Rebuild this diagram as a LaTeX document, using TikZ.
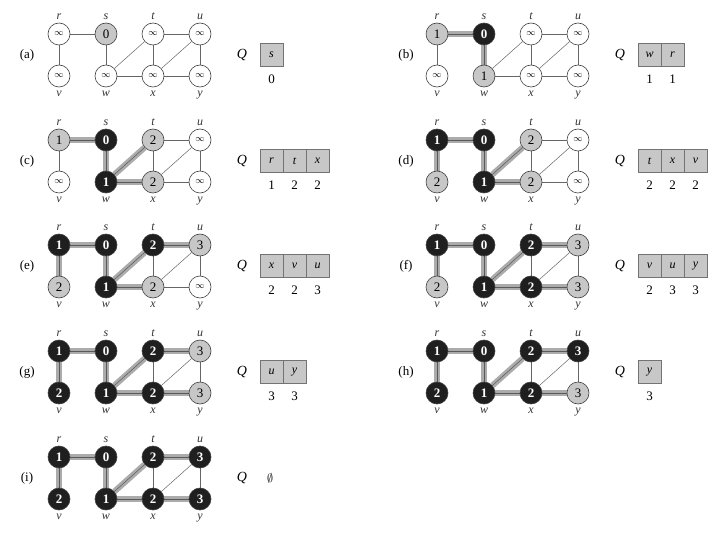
\documentclass[tikz,border=0pt]{standalone}
\usepackage{fontspec}
\setmainfont{Liberation Serif}
\pgfdeclarelayer{bg}
\pgfsetlayers{bg,main}
\newcommand{\inff}{{\fontsize{9}{9}\selectfont$\infty$}}
\tikzset{
 vtx/.style={circle, minimum size=22pt, inner sep=0pt, draw=black!75, line width=0.6pt, font=\fontsize{13}{13}\selectfont},
 wn/.style={vtx, fill=white},
 gn/.style={vtx, fill=black!22},
 bn/.style={vtx, fill=black!88, text=white, font=\fontsize{13}{13}\selectfont\bfseries},
 lbl/.style={font=\fontsize{12}{12}\selectfont\itshape, text=black!80, label distance=0pt},
 edge/.style={draw=black!60, line width=0.5pt},
 treeband/.style={draw=black!33, line width=6pt},
 treecore/.style={draw=black!65, line width=0.5pt},
 cell/.style={draw=black!55, fill=black!22, minimum width=23pt, minimum height=23pt, inner sep=0pt, font=\fontsize{12}{12}\selectfont\itshape},
 num/.style={font=\fontsize{13}{13}\selectfont, inner sep=0pt},
 plabel/.style={font=\fontsize{13}{13}\selectfont},
 qlabel/.style={font=\fontsize{14}{14}\selectfont\itshape},
}
% #1 id, #2 x of r, #3 y of top row, #4 specs n/col/row/style/value/labelpos
\newcommand{\bfsgraph}[4]{%
  \foreach \n/\c/\rw/\st/\v/\p in {#4}{%
    \node[\st, label={[lbl]\p:\n}] (#1\n) at ({#2+47*\c},{#3+42*\rw}) {\v};}
  \begin{pgfonlayer}{bg}
  \foreach \a/\b in {r/s,r/v,s/w,w/t,w/x,t/x,t/u,x/u,x/y,u/y}{\draw[edge] (#1\a) -- (#1\b);}
  \end{pgfonlayer}}
\newcommand{\bfstree}[2]{%
  \begin{pgfonlayer}{bg}
  \foreach \a/\b in {#2}{\draw[treeband] (#1\a) -- (#1\b); \draw[treecore] (#1\a) -- (#1\b);}
  \end{pgfonlayer}}
% #1 id, #2 x of panel label, #3 y mid, #4 x of Q, #5 cells c/v
\newcommand{\bfsqueue}[5]{%
  \node[plabel] (#1lab) at (#2,#3) {(#1)};
  \node[qlabel] (#1Q) at (#4,#3) {Q};
  \foreach \c/\v [count=\i] in {#5}{%
    \node[cell] (#1q\i) at ({#4+29.5+23*(\i-1)},#3) {\c};
    \node[num] (#1qv\i) at ({#4+29.5+23*(\i-1)},#3+24) {\v};}}
\begin{document}
\begin{tikzpicture}[x=1pt,y=-1pt]
\useasboundingbox (0,0) rectangle (720,540);
% (a)
\bfsgraph{a}{59}{34}{r/0/0/wn/\inff/above, s/1/0/gn/0/above, t/2/0/wn/\inff/above, u/3/0/wn/\inff/above, v/0/1/wn/\inff/below, w/1/1/wn/\inff/below, x/2/1/wn/\inff/below, y/3/1/wn/\inff/below}
\bfsqueue{a}{27}{55}{242}{s/0}
% (b)
\bfsgraph{b}{437}{34}{r/0/0/gn/1/above, s/1/0/bn/0/above, t/2/0/wn/\inff/above, u/3/0/wn/\inff/above, v/0/1/wn/\inff/below, w/1/1/gn/1/below, x/2/1/wn/\inff/below, y/3/1/wn/\inff/below}
\bfstree{b}{r/s,s/w}
\bfsqueue{b}{406}{55}{620}{w/1,r/1}
% (c)
\bfsgraph{c}{59}{140}{r/0/0/gn/1/above, s/1/0/bn/0/above, t/2/0/gn/2/above, u/3/0/wn/\inff/above, v/0/1/wn/\inff/below, w/1/1/bn/1/below, x/2/1/gn/2/below, y/3/1/wn/\inff/below}
\bfstree{c}{r/s,s/w,w/t,w/x}
\bfsqueue{c}{27}{161}{242}{r/1,t/2,x/2}
% (d)
\bfsgraph{d}{437}{140}{r/0/0/bn/1/above, s/1/0/bn/0/above, t/2/0/gn/2/above, u/3/0/wn/\inff/above, v/0/1/gn/2/below, w/1/1/bn/1/below, x/2/1/gn/2/below, y/3/1/wn/\inff/below}
\bfstree{d}{r/s,r/v,s/w,w/t,w/x}
\bfsqueue{d}{406}{161}{620}{t/2,x/2,v/2}
% (e)
\bfsgraph{e}{59}{245}{r/0/0/bn/1/above, s/1/0/bn/0/above, t/2/0/bn/2/above, u/3/0/gn/3/above, v/0/1/gn/2/below, w/1/1/bn/1/below, x/2/1/gn/2/below, y/3/1/wn/\inff/below}
\bfstree{e}{r/s,r/v,s/w,w/t,w/x,t/u}
\bfsqueue{e}{27}{266}{242}{x/2,v/2,u/3}
% (f)
\bfsgraph{f}{437}{245}{r/0/0/bn/1/above, s/1/0/bn/0/above, t/2/0/bn/2/above, u/3/0/gn/3/above, v/0/1/gn/2/below, w/1/1/bn/1/below, x/2/1/bn/2/below, y/3/1/gn/3/below}
\bfstree{f}{r/s,r/v,s/w,w/t,w/x,t/u,x/y}
\bfsqueue{f}{406}{266}{620}{v/2,u/3,y/3}
% (g)
\bfsgraph{g}{59}{351}{r/0/0/bn/1/above, s/1/0/bn/0/above, t/2/0/bn/2/above, u/3/0/gn/3/above, v/0/1/bn/2/below, w/1/1/bn/1/below, x/2/1/bn/2/below, y/3/1/gn/3/below}
\bfstree{g}{r/s,r/v,s/w,w/t,w/x,t/u,x/y}
\bfsqueue{g}{27}{372}{242}{u/3,y/3}
% (h)
\bfsgraph{h}{437}{351}{r/0/0/bn/1/above, s/1/0/bn/0/above, t/2/0/bn/2/above, u/3/0/bn/3/above, v/0/1/bn/2/below, w/1/1/bn/1/below, x/2/1/bn/2/below, y/3/1/gn/3/below}
\bfstree{h}{r/s,r/v,s/w,w/t,w/x,t/u,x/y}
\bfsqueue{h}{406}{372}{620}{y/3}
% (i)
\bfsgraph{i}{59}{457}{r/0/0/bn/1/above, s/1/0/bn/0/above, t/2/0/bn/2/above, u/3/0/bn/3/above, v/0/1/bn/2/below, w/1/1/bn/1/below, x/2/1/bn/2/below, y/3/1/bn/3/below}
\bfstree{i}{r/s,r/v,s/w,w/t,w/x,t/u,x/y}
\node[plabel] (ilab) at (27,478) {(i)};
\node[qlabel] (iQ) at (242,478) {Q};
\node[font=\fontsize{13}{13}\selectfont] (iempty) at (270,478) {$\emptyset$};
\end{tikzpicture}
\end{document}
